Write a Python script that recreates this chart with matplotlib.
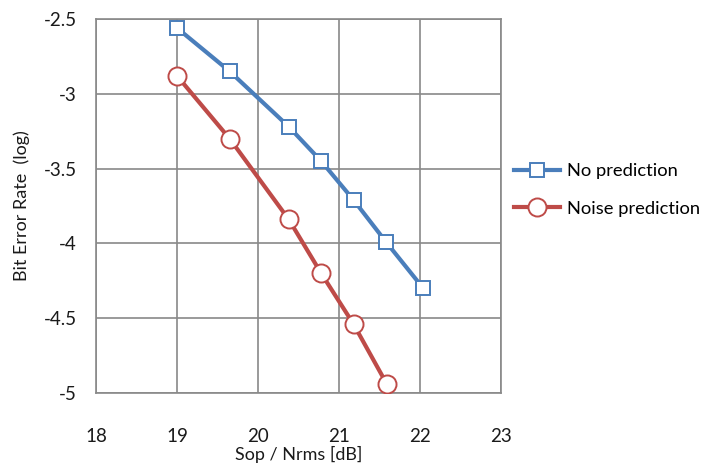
import matplotlib
matplotlib.use("Agg")
import matplotlib.pyplot as plt

x_no = [19.0, 19.65, 20.38, 20.78, 21.18, 21.58, 22.04]
y_no = [-2.56, -2.85, -3.22, -3.45, -3.71, -3.99, -4.30]
x_np = [19.0, 19.65, 20.38, 20.78, 21.18, 21.59]
y_np = [-2.88, -3.30, -3.84, -4.20, -4.54, -4.94]
xticks = [18, 19, 20, 21, 22, 23]
yticks = [-5, -4.5, -4, -3.5, -3, -2.5]
ytick_labels = ["-5", "-4.5", "-4", "-3.5", "-3", "-2.5"]

plt.rcParams['font.family'] = ['Lato', 'DejaVu Sans']
fig = plt.figure(figsize=(7.1, 4.68), dpi=100)
ax = fig.add_axes([96/710, 1-393/468, 405/710, 374/468])

blue = '#4A7EBB'
red = '#BE4B48'
ax.plot(x_no, y_no, color=blue, lw=3, marker='s', ms=10.5, mfc='white',
        mec=blue, mew=1.4, label='No prediction', zorder=3)
ax.plot(x_np, y_np, color=red, lw=3, marker='o', ms=13, mfc='white',
        mec=red, mew=1.4, label='Noise prediction', zorder=3)

ax.set_xlim(18, 23)
ax.set_ylim(-5, -2.5)
ax.set_xticks(xticks)
ax.set_yticks(yticks)
ax.set_yticklabels(ytick_labels)
ax.grid(True, color='#898989', lw=1.2)
ax.set_axisbelow(True)
for s in ax.spines.values():
    s.set_color('#898989')
    s.set_linewidth(1.2)
ax.tick_params(length=0, labelsize=13.5, colors='#1a1a1a')
ax.tick_params(axis='x', pad=25)
ax.tick_params(axis='y', pad=14)
ax.set_xlabel('Sop / Nrms [dB]', fontsize=13, labelpad=1, color='#1a1a1a')
ax.set_ylabel('Bit Error Rate  (log)', fontsize=13, labelpad=10, color='#1a1a1a')

leg = ax.legend(loc='center left', bbox_to_anchor=(507/710, 1-190/468),
                bbox_transform=fig.transFigure, frameon=False, fontsize=13.2,
                handlelength=2.5, labelspacing=1.15, handletextpad=0.35, borderaxespad=0)
fig.savefig('out.png', dpi=100)
